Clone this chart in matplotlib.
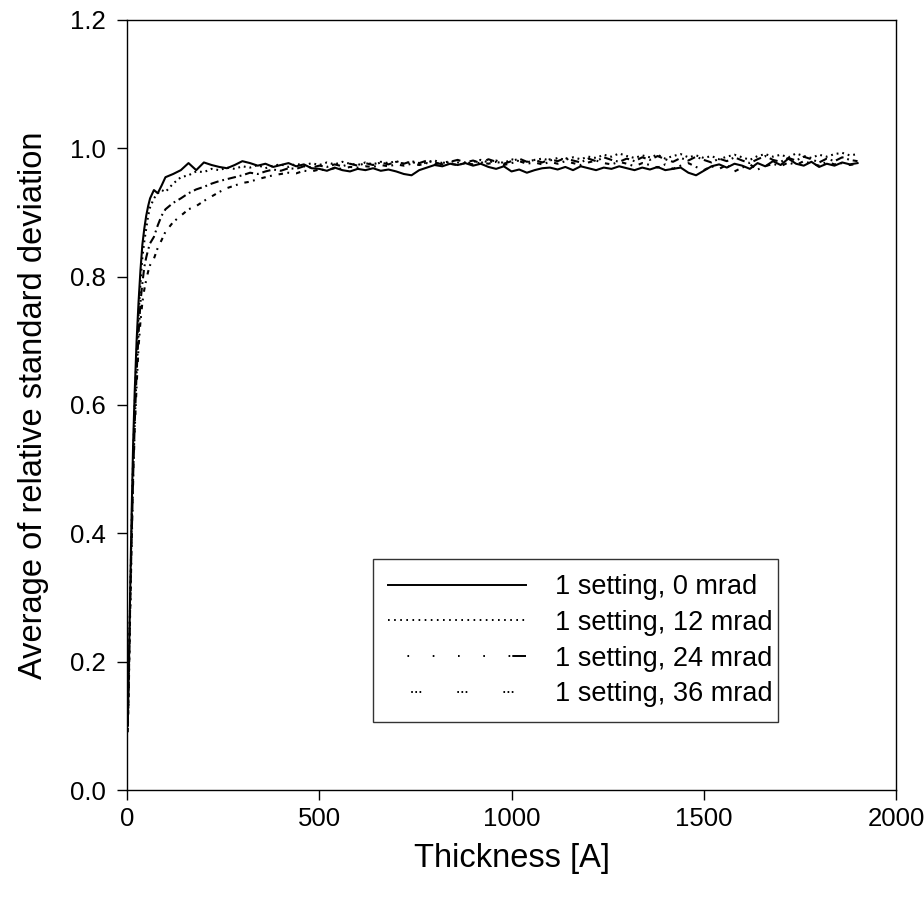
import numpy as np
import matplotlib
matplotlib.use("Agg")
import matplotlib.pyplot as plt
from matplotlib.lines import Line2D

plt.rcParams['font.family'] = ['Liberation Sans', 'DejaVu Sans']
plt.rcParams['lines.scale_dashes'] = False

# Thickness grid [A]
thickness = [2, 5, 8, 12, 16, 20, 25, 30, 35, 40, 45, 50, 55, 60, 70, 80, 90,
             100, 120, 140, 160, 180, 200, 220, 240, 260, 280,
             300, 320, 340, 360, 380, 400, 420, 440, 460, 480,
             500, 520, 540, 560, 580, 600, 620, 640, 660, 680,
             700, 720, 740, 760, 780, 800, 820, 840, 860, 880,
             900, 920, 940, 960, 980, 1000, 1020, 1040, 1060, 1080,
             1100, 1120, 1140, 1160, 1180, 1200, 1220, 1240, 1260, 1280,
             1300, 1320, 1340, 1360, 1380, 1400, 1420, 1440, 1460, 1480,
             1500, 1520, 1540, 1560, 1580, 1600, 1620, 1640, 1660, 1680,
             1700, 1720, 1740, 1760, 1780, 1800, 1820, 1840, 1860, 1880,
             1900]

rsd_0mrad = [0.10, 0.20, 0.30, 0.43, 0.54, 0.62, 0.70, 0.76, 0.81, 0.85, 0.875, 0.895, 0.91, 0.922, 0.935, 0.930, 0.942,
             0.955, 0.960, 0.966, 0.977, 0.966, 0.978, 0.974, 0.971, 0.969, 0.974,
             0.980, 0.977, 0.973, 0.976, 0.971, 0.974, 0.977, 0.972, 0.975, 0.969,
             0.968, 0.965, 0.970, 0.966, 0.964, 0.968, 0.966, 0.969, 0.965, 0.967,
             0.964, 0.960, 0.958, 0.966, 0.970, 0.974, 0.972, 0.976, 0.974, 0.977,
             0.973, 0.976, 0.971, 0.968, 0.972, 0.964, 0.967, 0.962, 0.966, 0.969,
             0.970, 0.967, 0.971, 0.966, 0.972, 0.969, 0.966, 0.970, 0.968, 0.972,
             0.969, 0.966, 0.970, 0.967, 0.971, 0.966, 0.968, 0.970, 0.962, 0.958,
             0.965, 0.972, 0.975, 0.970, 0.976, 0.973, 0.968, 0.977, 0.972, 0.980,
             0.974, 0.984, 0.976, 0.973, 0.979, 0.971, 0.976, 0.973, 0.978, 0.975,
             0.977]

rsd_12mrad = [0.10, 0.19, 0.29, 0.41, 0.52, 0.60, 0.68, 0.74, 0.79, 0.83, 0.855, 0.875, 0.895, 0.908, 0.922, 0.930, 0.935,
              0.932, 0.945, 0.955, 0.958, 0.964, 0.963, 0.968, 0.966, 0.970, 0.968,
              0.972, 0.970, 0.974, 0.969, 0.973, 0.975, 0.971, 0.976, 0.973, 0.977,
              0.974, 0.978, 0.975, 0.979, 0.976, 0.974, 0.978, 0.975, 0.979, 0.977,
              0.980, 0.976, 0.979, 0.975, 0.978, 0.981, 0.977, 0.980, 0.978, 0.976,
              0.979, 0.982, 0.978, 0.981, 0.977, 0.983, 0.980, 0.978, 0.982, 0.984,
              0.981, 0.985, 0.982, 0.986, 0.983, 0.987, 0.985, 0.990, 0.987, 0.992,
              0.988, 0.985, 0.989, 0.986, 0.990, 0.984, 0.988, 0.991, 0.986, 0.989,
              0.985, 0.988, 0.983, 0.987, 0.990, 0.986, 0.982, 0.988, 0.991, 0.987,
              0.990, 0.986, 0.992, 0.988, 0.985, 0.990, 0.987, 0.991, 0.993, 0.989,
              0.991]

rsd_24mrad = [0.10, 0.18, 0.28, 0.39, 0.49, 0.57, 0.65, 0.71, 0.76, 0.79, 0.815, 0.830, 0.842, 0.852, 0.862, 0.880, 0.895,
              0.905, 0.915, 0.922, 0.930, 0.936, 0.940, 0.945, 0.949, 0.952, 0.955,
              0.958, 0.962, 0.960, 0.964, 0.967, 0.965, 0.969, 0.968, 0.972, 0.970,
              0.973, 0.971, 0.975, 0.972, 0.976, 0.973, 0.977, 0.974, 0.978, 0.975,
              0.979, 0.976, 0.980, 0.977, 0.981, 0.978, 0.975, 0.979, 0.982, 0.978,
              0.981, 0.977, 0.983, 0.979, 0.976, 0.980, 0.984, 0.979, 0.982, 0.978,
              0.983, 0.980, 0.985, 0.981, 0.978, 0.984, 0.980, 0.986, 0.982, 0.979,
              0.984, 0.980, 0.986, 0.982, 0.988, 0.983, 0.979, 0.985, 0.981, 0.987,
              0.982, 0.978, 0.984, 0.980, 0.986, 0.981, 0.977, 0.983, 0.988, 0.982,
              0.979, 0.985, 0.981, 0.987, 0.983, 0.978, 0.984, 0.980, 0.986, 0.982,
              0.980]

rsd_36mrad = [0.09, 0.17, 0.27, 0.38, 0.48, 0.56, 0.63, 0.69, 0.73, 0.76, 0.780, 0.795, 0.808, 0.818, 0.828, 0.845, 0.857,
              0.870, 0.885, 0.895, 0.905, 0.910, 0.918, 0.925, 0.932, 0.938, 0.942,
              0.946, 0.948, 0.952, 0.955, 0.958, 0.960, 0.962, 0.961, 0.965, 0.964,
              0.967, 0.966, 0.969, 0.968, 0.971, 0.970, 0.972, 0.971, 0.974, 0.972,
              0.975, 0.973, 0.976, 0.974, 0.977, 0.975, 0.978, 0.976, 0.974, 0.977,
              0.975, 0.978, 0.976, 0.979, 0.974, 0.977, 0.980, 0.976, 0.978, 0.975,
              0.979, 0.976, 0.980, 0.977, 0.974, 0.978, 0.981, 0.977, 0.975, 0.979,
              0.976, 0.972, 0.977, 0.974, 0.970, 0.975, 0.968, 0.973, 0.977, 0.971,
              0.966, 0.972, 0.968, 0.974, 0.964, 0.970, 0.975, 0.967, 0.972, 0.976,
              0.972, 0.978, 0.974, 0.980, 0.976, 0.973, 0.979, 0.975, 0.977, 0.974,
              0.976]

labels = ["1 setting, 0 mrad", "1 setting, 12 mrad",
          "1 setting, 24 mrad", "1 setting, 36 mrad"]

# dash patterns along the curves (points)
curve_styles = [
    '-',
    (0, (1.3, 2.8)),
    (0, (6.0, 2.8, 1.3, 2.8)),
    (0, (3.2, 3.2, 1.3, 5.0)),
]
# dash patterns drawn in the legend key (points)
key_styles = [
    '-',
    (0, (1.2, 3.2)),
    (90, (1.2, 17, 1.2, 17, 1.2, 17, 1.2, 17, 1.2, 1.5, 11.5, 17)),
    (16.5, (1.2, 1.8, 1.2, 1.8, 1.2, 26)),
]

fig = plt.figure(figsize=(9.24, 9.0), dpi=100)
ax = fig.add_axes([127 / 924, 1 - 790 / 900, 769 / 924, 770 / 900])

series = [rsd_0mrad, rsd_12mrad, rsd_24mrad, rsd_36mrad]
for vals, ls in zip(series, curve_styles):
    ax.plot(thickness, vals, color='black', linestyle=ls, linewidth=1.5)

ax.set_xlim(0, 2000)
ax.set_ylim(0, 1.2)
ax.set_xticks([0, 500, 1000, 1500, 2000])
ax.set_yticks([0.0, 0.2, 0.4, 0.6, 0.8, 1.0, 1.2])
ax.set_yticklabels(["0.0", "0.2", "0.4", "0.6", "0.8", "1.0", "1.2"])
ax.tick_params(direction='out', length=7, width=1.0, labelsize=18.5)
ax.tick_params(axis='x', pad=5)
ax.tick_params(axis='y', pad=8.5)
for sp in ax.spines.values():
    sp.set_linewidth(1.0)

ax.set_xlabel("Thickness [A]", fontsize=23.5, labelpad=9)
ax.set_ylabel("Average of relative standard deviation", fontsize=23.5, labelpad=15)

handles = [Line2D([], [], color='black', linestyle=ls, linewidth=1.4) for ls in key_styles]
leg = ax.legend(handles, labels, loc='lower left',
                bbox_to_anchor=(0.32, 0.088, 0.527, 0.215),
                mode='expand', fontsize=19.5, frameon=True, fancybox=False,
                edgecolor='black', handlelength=5.1, handletextpad=1.05,
                labelspacing=0.36, borderpad=0.55, borderaxespad=0)
leg.get_frame().set_linewidth(1.0)

fig.savefig("out.png", dpi=100)
